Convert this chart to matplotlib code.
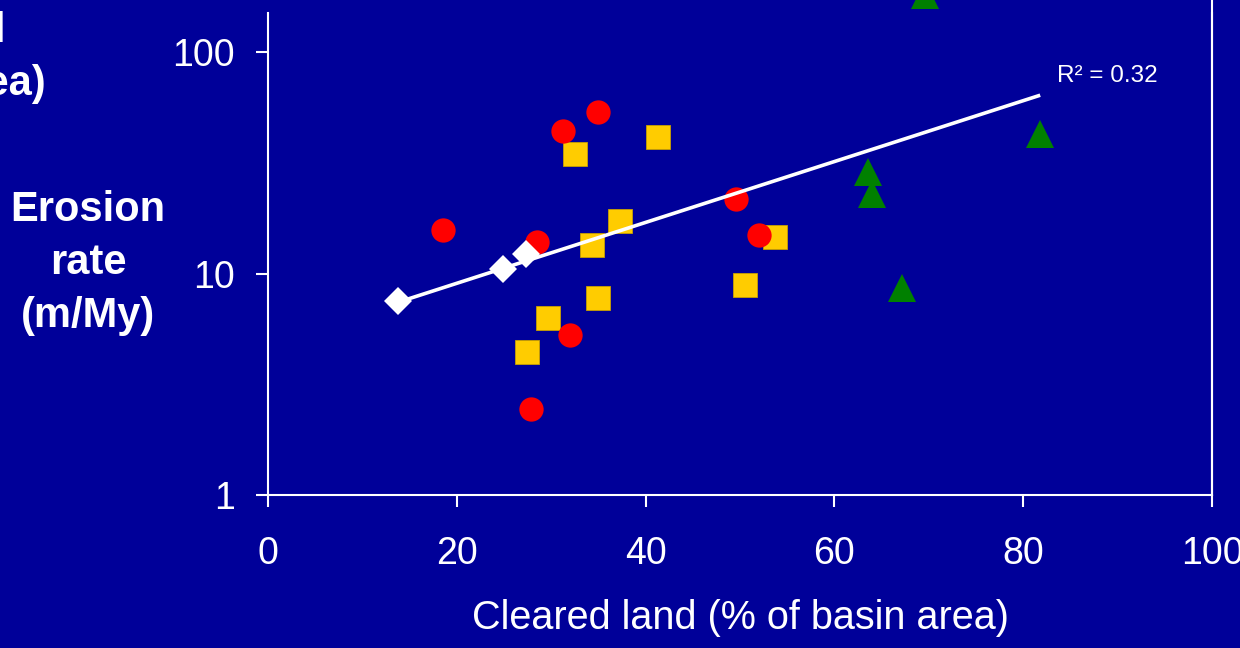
import matplotlib
matplotlib.use("Agg")
from matplotlib import pyplot as plt
from matplotlib.lines import Line2D
import numpy as np

plt.rcParams['font.family'] = ['Liberation Sans', 'DejaVu Sans']

## DATA: cleared land (%) vs erosion rate (m/My), one list pair per group
diamond_x = [13.8, 24.9, 27.3]
diamond_y = [7.5, 10.5, 12.2]

circle_x = [18.5, 28.5, 31.3, 35.0, 32.0, 27.9, 49.6, 52.0]
circle_y = [15.7, 13.9, 44.0, 53.6, 5.3, 2.44, 21.7, 14.9]

square_x = [32.5, 41.3, 37.3, 34.3, 53.7, 50.5, 35.0, 29.7, 27.4]
square_y = [34.6, 41.3, 17.3, 13.4, 14.6, 8.9, 7.75, 6.3, 4.42]

triangle_x = [63.6, 64.0, 67.2, 69.6, 81.8]
triangle_y = [28.7, 22.9, 8.6, 181.0, 42.6]

# exponential trendline: log10(y) = trend_a + trend_b * x
trend_a = 0.681
trend_b = 0.01374

x_ticks = [0, 20, 40, 60, 80, 100]
y_ticks = [1, 10, 100]
r2_text = "R\u00b2 = 0.32"

bg = '#000099'
W, H = 1240, 648

fig = plt.figure(figsize=(12.4, 6.48), dpi=100, facecolor=bg)
ax = fig.add_axes([268 / W, 1 - 495 / H, (1212 - 268) / W, (495 - 13) / H])
ax.set_facecolor(bg)

## MARKERS
ax.plot(square_x, square_y, 's', ms=17.5, color='#FFCC00', mec='#C8A000', mew=0.6,
        zorder=3, clip_on=False)
ax.plot(circle_x, circle_y, 'o', ms=17.5, color='#FF0000', mew=0, zorder=4, clip_on=False)
ax.plot(triangle_x, triangle_y, '^', ms=19.5, color='#008000', mew=0, zorder=4, clip_on=False)

## TRENDLINE over the full x range of the points
all_x = np.array(diamond_x + circle_x + square_x + triangle_x)
tx = np.array([all_x.min(), all_x.max()])
ax.plot(tx, 10 ** (trend_a + trend_b * tx), color='white', lw=2.6, zorder=5,
        solid_capstyle='butt')

ax.plot(diamond_x, diamond_y, 'D', ms=14.5, color='white', mew=0, zorder=6, clip_on=False)

ax.text(83.6, 10 ** ((495 - 76) / 221.5), r2_text, color='white', fontsize=17.5,
        ha='left', va='center')

## AXES
ax.set_yscale('log')
ax.set_xlim(0, 100)
ax.set_ylim(1, 10 ** ((495 - 13) / 221.5))
ax.set_xticks(x_ticks)
ax.set_yticks(y_ticks)
ax.set_yticklabels([str(v) for v in y_ticks])
ax.yaxis.set_minor_locator(matplotlib.ticker.NullLocator())
ax.tick_params(colors='white', labelsize=27, length=8.6, width=1.5, direction='out')
ax.tick_params(axis='x', pad=21)
ax.tick_params(axis='y', pad=15)
for side in ['left', 'bottom', 'right']:
    ax.spines[side].set_color('white')
    ax.spines[side].set_linewidth(1.5)
ax.spines['top'].set_visible(False)

# right border runs up to the top edge
fig.add_artist(Line2D([1212 / W, 1212 / W], [1 - 495 / H, 1.0], color='white', lw=1.5))

## LABELS
fig.text(740 / W, 1 - 618 / H, 'Cleared land (% of basin area)', color='white',
         fontsize=28.5, ha='center', va='center')
fig.text(88 / W, 1 - 263 / H, 'Erosion\nrate\n(m/My)', color='white', fontsize=30,
         fontweight='bold', ha='center', va='center', linespacing=1.42)
fig.text(46 / W, 1 - 95 / H, 'area)', color='white', fontsize=30, fontweight='bold',
         ha='right', va='baseline')
fig.text(5 / W, 1 - 42 / H, 'l', color='white', fontsize=30, fontweight='bold',
         ha='right', va='baseline')

plt.savefig('out.png', dpi=100, facecolor=bg)
